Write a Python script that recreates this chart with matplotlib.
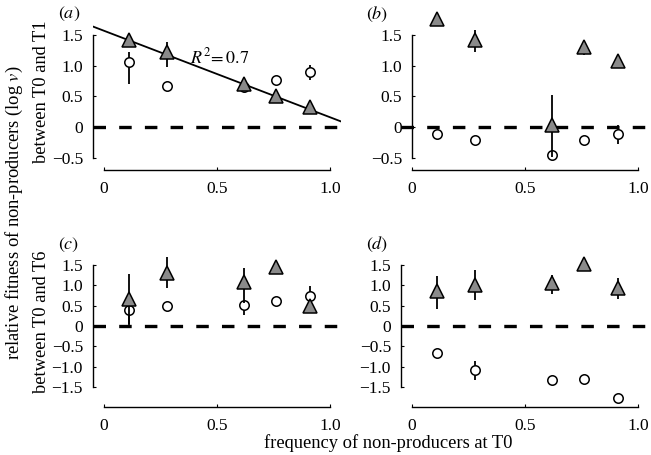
import numpy as np
import matplotlib
matplotlib.use("Agg")
import matplotlib.pyplot as plt

plt.rcParams['font.family'] = ['Liberation Serif', 'DejaVu Serif']
plt.rcParams['mathtext.fontset'] = 'stix'
plt.rcParams['lines.scale_dashes'] = False

# frequency of non-producers at T0
freq = [0.11, 0.28, 0.62, 0.76, 0.91]

# panel a (T0-T1)
a_tri = [1.42, 1.23, 0.70, 0.51, 0.32]
a_tri_lo = [1.38, 0.98, 0.64, 0.39, 0.22]
a_tri_hi = [1.46, 1.39, 0.76, 0.60, 0.40]
a_circ = [1.06, 0.67, 0.66, 0.76, 0.90]
a_circ_lo = [0.71, 0.67, 0.62, 0.68, 0.76]
a_circ_hi = [1.23, 0.67, 0.70, 0.84, 1.01]
fit_intercept = 1.57
fit_slope = -1.41

# panel b
b_tri = [1.76, 1.42, 0.03, 1.30, 1.07]
b_tri_lo = [1.66, 1.23, -0.49, 1.17, 0.96]
b_tri_hi = [1.80, 1.58, 0.53, 1.36, 1.12]
b_circ = [-0.12, -0.21, -0.45, -0.21, -0.12]
b_circ_lo = [-0.19, -0.21, -0.45, -0.21, -0.28]
b_circ_hi = [-0.05, -0.21, -0.45, -0.21, 0.03]

# panel c (T0-T6)
c_tri = [0.66, 1.30, 1.07, 1.44, 0.48]
c_tri_lo = [0.04, 0.93, 0.56, 1.44, 0.35]
c_tri_hi = [1.28, 1.69, 1.42, 1.44, 0.55]
c_circ = [0.39, 0.48, 0.52, 0.61, 0.74]
c_circ_lo = [0.0, 0.48, 0.27, 0.61, 0.48]
c_circ_hi = [0.45, 0.48, 0.60, 0.61, 0.98]

# panel d
d_tri = [0.86, 1.01, 1.05, 1.52, 0.93]
d_tri_lo = [0.43, 0.64, 0.79, 1.52, 0.66]
d_tri_hi = [1.23, 1.38, 1.25, 1.52, 1.17]
d_circ = [-0.67, -1.08, -1.34, -1.31, -1.78]
d_circ_lo = [-0.67, -1.33, -1.34, -1.31, -1.85]
d_circ_hi = [-0.67, -0.86, -1.34, -1.31, -1.70]

xticks = [0, 0.5, 1.0]
xticklabels = ['0', '0.5', '1.0']
yticks_top = [-0.5, 0, 0.5, 1.0, 1.5]
yticklabels_top = ['\u22120.5', '0', '0.5', '1.0', '1.5']
yticks_bot = [-1.5, -1.0, -0.5, 0, 0.5, 1.0, 1.5]
yticklabels_bot = ['\u22121.5', '\u22121.0', '\u22120.5', '0', '0.5', '1.0', '1.5']

fig = plt.figure(figsize=(6.51, 4.55), dpi=100)
ax_a = fig.add_axes([0.1424, 0.6264, 0.3819, 0.3235])
ax_b = fig.add_axes([0.6155, 0.6264, 0.3819, 0.3505])
ax_c = fig.add_axes([0.1424, 0.1048, 0.3819, 0.3396])
ax_d = fig.add_axes([0.6155, 0.1048, 0.3819, 0.3396])


def errs(y, lo, hi):
    y = np.array(y)
    return [y - np.array(lo), np.array(hi) - y]


def draw_panel(ax, tri, tri_lo, tri_hi, circ, circ_lo, circ_hi):
    ax.axhline(0, color='black', lw=2.4, dashes=(9, 9.5), zorder=1)
    ax.errorbar(freq, circ, yerr=errs(circ, circ_lo, circ_hi), fmt='o', ms=6.8,
                mfc='white', mec='black', mew=1.1, ecolor='black', elinewidth=1.3,
                capsize=0, zorder=3)
    ax.errorbar(freq, tri, yerr=errs(tri, tri_lo, tri_hi), fmt='^', ms=9.6,
                mfc='#8a8a8a', mec='black', mew=1.1, ecolor='black', elinewidth=1.3,
                capsize=0, zorder=4)


def style_axis(ax, yticks, yticklabels, ylim):
    ax.set_xlim(-0.05, 1.05)
    ax.set_ylim(*ylim)
    for s in ['top', 'right']:
        ax.spines[s].set_visible(False)
    ax.spines['left'].set_bounds(yticks[0], yticks[-1])
    ax.spines['bottom'].set_bounds(0, 1)
    ax.spines['left'].set_linewidth(1.0)
    ax.spines['bottom'].set_linewidth(1.0)
    ax.set_xticks(xticks)
    ax.set_xticklabels(xticklabels)
    ax.set_yticks(yticks)
    ax.set_yticklabels(yticklabels)
    ax.tick_params(axis='x', direction='in', length=2.5, pad=8, labelsize=12.5)
    ax.tick_params(axis='y', direction='in', length=2.5, pad=7, labelsize=12.5)


draw_panel(ax_a, a_tri, a_tri_lo, a_tri_hi, a_circ, a_circ_lo, a_circ_hi)
fx = np.array([-0.05, 1.05])
ax_a.plot(fx, fit_intercept + fit_slope * fx, color='black', lw=1.3, zorder=2)
ax_a.text(0.38, 1.14, r'$R^2\!=0.7$', fontsize=13, va='center')
style_axis(ax_a, yticks_top, yticklabels_top, (-0.7, 1.7))

draw_panel(ax_b, b_tri, b_tri_lo, b_tri_hi, b_circ, b_circ_lo, b_circ_hi)
style_axis(ax_b, yticks_top, yticklabels_top, (-0.7, 1.9))
ax_b.spines['left'].set_position(('data', 0))

draw_panel(ax_c, c_tri, c_tri_lo, c_tri_hi, c_circ, c_circ_lo, c_circ_hi)
style_axis(ax_c, yticks_bot, yticklabels_bot, (-2.0, 1.8))

draw_panel(ax_d, d_tri, d_tri_lo, d_tri_hi, d_circ, d_circ_lo, d_circ_hi)
style_axis(ax_d, yticks_bot, yticklabels_bot, (-2.0, 1.8))

fig.text(0.106, 0.969, r'$(a)$', fontsize=13, ha='center', va='center')
fig.text(0.579, 0.969, r'$(b)$', fontsize=13, ha='center', va='center')
fig.text(0.106, 0.462, r'$(c)$', fontsize=13, ha='center', va='center')
fig.text(0.579, 0.462, r'$(d)$', fontsize=13, ha='center', va='center')

fig.text(14 / 651, 1 - 213 / 455, r'relative fitness of non-producers (log $\it{v}$)',
         rotation=90, fontsize=13.3, ha='center', va='center')
fig.text(41 / 651, 1 - 92 / 455, 'between T0 and T1', rotation=90, fontsize=13.3,
         ha='center', va='center')
fig.text(41 / 651, 1 - 322 / 455, 'between T0 and T6', rotation=90, fontsize=13.3,
         ha='center', va='center')
fig.text(388 / 651, 1 - 443 / 455, 'frequency of non-producers at T0', fontsize=13.3,
         ha='center', va='center')

plt.savefig('out.png', dpi=100)
